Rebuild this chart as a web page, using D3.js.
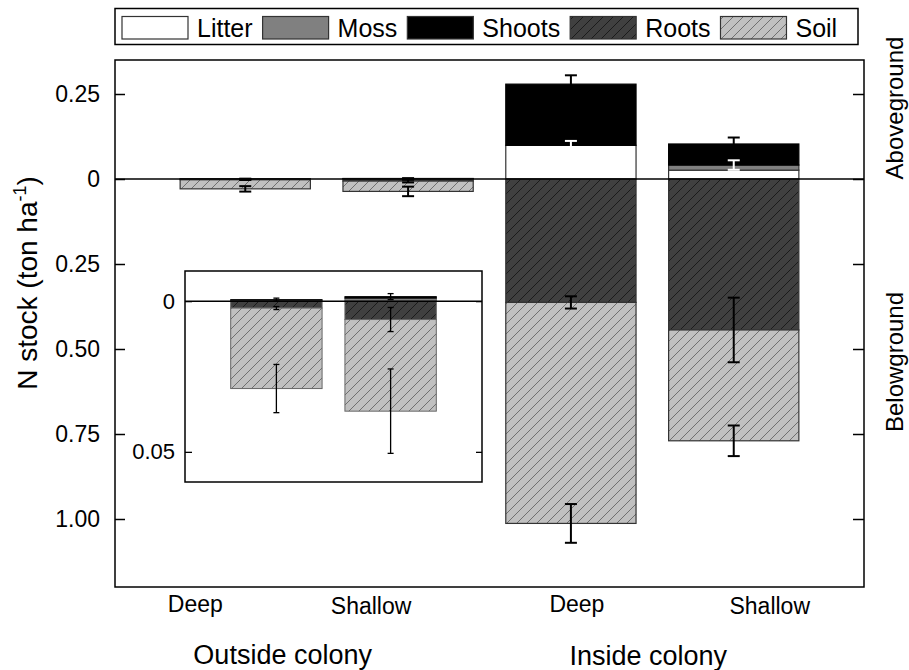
<!DOCTYPE html>
<html>
<head>
<meta charset="utf-8">
<script src="https://cdn.jsdelivr.net/npm/d3@7"></script>
<style>
  body { margin: 0; background: #fff; }
  text { font-family: "Liberation Sans", Arial, sans-serif; fill: #000; }
</style>
</head>
<body>
<div id="chart"></div>
<script>
// bars: outside deep, outside shallow, inside deep, inside shallow
const categories = ["Deep", "Shallow", "Deep", "Shallow"];
const groups = ["Outside colony", "Inside colony"];
const components = ["Litter", "Moss", "Shoots", "Roots", "Soil"];

// N stock (ton/ha); aboveground parts stack up, belowground parts stack down
const litter = [0, 0, 0.099, 0.026];
const moss = [0, 0.0010, 0, 0.015];
const shoots = [0.0005, 0.0005, 0.180, 0.062];
const roots = [0.0023, 0.0061, 0.363, 0.444];
const soil = [0.0267, 0.0304, 0.650, 0.326];

const litterErr = [0, 0, 0.013, 0];
const mossErr = [0, 0, 0, 0.014];
const shootsErr = [0.0005, 0.001, 0.026, 0.019];
const rootsErr = [0.0005, 0.004, 0.018, 0.095];
const soilErr = [0.008, 0.014, 0.057, 0.045];

const yTicks = [0.25, 0, -0.25, -0.5, -0.75, -1];
const yTickLabels = ["0.25", "0", "0.25", "0.50", "0.75", "1.00"];
const insetTicks = [0, -0.05];
const insetTickLabels = ["0", "0.05"];

const width = 909, height = 670;
const margin = {top: 60, right: 45, bottom: 83, left: 115};

const svg = d3.select('#chart').append('svg')
    .attr('width', width).attr('height', height)
    .attr('font-family', '"Liberation Sans", Arial, sans-serif');

// hatch patterns
const defs = svg.append('defs');
function hatch(id, bg, line){
    const w = 10;
    const p = defs.append('pattern').attr('id', id)
        .attr('patternUnits', 'userSpaceOnUse').attr('width', w).attr('height', w);
    p.append('rect').attr('width', w).attr('height', w).attr('fill', bg);
    p.append('path').attr('d', `M0,${w} L${w},0 M-2,2 L2,-2 M${w - 2},${w + 2} L${w + 2},${w - 2}`)
        .attr('stroke', line).attr('stroke-width', 0.8);
}
hatch('hatchRoots', '#404040', '#111');
hatch('hatchSoil', '#c0c0c0', '#5a5a5a');

const series = [
    {name: 'Litter', values: litter, err: litterErr, side: 1, fill: '#ffffff', errColor: '#fff'},
    {name: 'Moss', values: moss, err: mossErr, side: 1, fill: '#808080', errColor: '#fff'},
    {name: 'Shoots', values: shoots, err: shootsErr, side: 1, fill: '#000000', errColor: '#000'},
    {name: 'Roots', values: roots, err: rootsErr, side: -1, fill: 'url(#hatchRoots)', errColor: '#000'},
    {name: 'Soil', values: soil, err: soilErr, side: -1, fill: 'url(#hatchSoil)', errColor: '#000'}
];

// cumulative stacks
const stacked = [];
categories.forEach((c, i) => {
    let up = 0, down = 0;
    series.forEach((s) => {
        const v = s.values[i];
        let y0, y1;
        if(s.side > 0){ y0 = up; up += v; y1 = up; }
        else { y0 = down; down -= v; y1 = down; }
        stacked.push({i: i, s: s, y0: y0, y1: y1, err: s.err[i]});
    });
});

function drawBars(g, x, y, idx, opts){
    const data = stacked.filter((d) => idx.includes(d.i) && d.y0 !== d.y1);
    g.append('g').selectAll('rect').data(data).join('rect')
        .attr('x', (d) => x(d.i))
        .attr('width', x.bandwidth())
        .attr('y', (d) => y(Math.max(d.y0, d.y1)))
        .attr('height', (d) => Math.abs(y(d.y0) - y(d.y1)))
        .attr('fill', (d) => d.s.fill)
        .attr('stroke', (d) => d.s.name === 'Shoots' ? '#000' : opts.outline)
        .attr('stroke-width', opts.outlineWidth);

    // zero line
    g.append('line')
        .attr('x1', x.range()[0]).attr('x2', x.range()[1])
        .attr('y1', y(0)).attr('y2', y(0))
        .attr('stroke', '#000').attr('stroke-width', 1.5);

    const errs = data.filter((d) => d.err > 0);
    const eg = g.append('g').selectAll('g').data(errs).join('g')
        .attr('stroke', (d) => d.s.errColor).attr('stroke-width', opts.errWidth);
    const cx = (d) => x(d.i) + x.bandwidth() / 2;
    eg.append('line').attr('x1', cx).attr('x2', cx)
        .attr('y1', (d) => y(d.y1 - d.err)).attr('y2', (d) => y(d.y1 + d.err));
    [-1, 1].forEach((k) => {
        eg.append('line')
            .attr('x1', (d) => cx(d) - opts.cap).attr('x2', (d) => cx(d) + opts.cap)
            .attr('y1', (d) => y(d.y1 + k * d.err)).attr('y2', (d) => y(d.y1 + k * d.err));
    });
}

// main chart
const x = d3.scaleBand().domain(d3.range(categories.length))
    .range([margin.left, width - margin.right]).paddingInner(0.2).paddingOuter(0.4);
const y = d3.scaleLinear().domain([-1.2, 0.35]).range([height - margin.bottom, margin.top]);

drawBars(svg.append('g'), x, y, [0, 1, 2, 3], {outline: '#333', outlineWidth: 1.2, errWidth: 2, cap: 6});

// left axis, ticks inside
svg.append('g').attr('transform', `translate(${margin.left},0)`)
    .call(d3.axisLeft(y).tickValues(yTicks).tickSizeInner(-10).tickSizeOuter(0).tickPadding(15)
        .tickFormat((d, i) => yTickLabels[i]))
    .call((g) => g.select('.domain').remove())
    .call((g) => g.selectAll('.tick line').attr('stroke-width', 1.5))
    .call((g) => g.selectAll('.tick text').attr('font-size', 23))
    .attr('font-family', null);

// right axis, ticks inside
svg.append('g').attr('transform', `translate(${width - margin.right},0)`)
    .call(d3.axisRight(y).tickValues(yTicks).tickSizeInner(-11).tickSizeOuter(0).tickFormat(''))
    .call((g) => g.select('.domain').remove())
    .call((g) => g.selectAll('.tick line').attr('stroke-width', 1.5));

// frame
svg.append('rect')
    .attr('x', margin.left).attr('y', margin.top)
    .attr('width', width - margin.left - margin.right)
    .attr('height', height - margin.top - margin.bottom)
    .attr('fill', 'none').attr('stroke', '#000').attr('stroke-width', 1.5);

// x labels (placed as in original, not centred under bars)
const labelShift = [-50, -37, 6, 36];
const labelBase = [612, 614, 612, 614];
svg.append('g').selectAll('text').data(categories).join('text')
    .attr('x', (d, i) => x(i) + x.bandwidth() / 2 + labelShift[i])
    .attr('y', (d, i) => labelBase[i])
    .attr('text-anchor', 'middle').attr('font-size', 23)
    .text((d) => d);

const groupX = [(x(0) + x(1) + x.bandwidth()) / 2, (x(2) + x(3) + x.bandwidth()) / 2];
const groupShift = [-44, -4];
svg.append('g').selectAll('text').data(groups).join('text')
    .attr('x', (d, i) => groupX[i] + groupShift[i])
    .attr('y', (d, i) => 664 + i)
    .attr('text-anchor', 'middle').attr('font-size', 27)
    .text((d) => d);

// y label
const yl = svg.append('text')
    .attr('transform', 'translate(37,283) rotate(-90)')
    .attr('text-anchor', 'middle').attr('font-size', 28);
yl.append('tspan').text('N stock (ton ha');
yl.append('tspan').attr('font-size', 18).attr('dy', -11).text('-1');
yl.append('tspan').attr('dy', 11).text(')');

// side labels
svg.append('text').attr('transform', 'translate(903,108) rotate(-90)')
    .attr('text-anchor', 'middle').attr('font-size', 24).text('Aboveground');
svg.append('text').attr('transform', 'translate(903,362) rotate(-90)')
    .attr('text-anchor', 'middle').attr('font-size', 24).text('Belowground');

// inset for the outside colony bars
const inset = {left: 185, right: 482, top: 271, bottom: 482};
const ig = svg.append('g');
ig.append('rect').attr('x', inset.left).attr('y', inset.top)
    .attr('width', inset.right - inset.left).attr('height', inset.bottom - inset.top)
    .attr('fill', '#fff');
const xi = d3.scaleBand().domain([0, 1]).range([inset.left, inset.right])
    .paddingInner(0.2).paddingOuter(0.4);
const yi = d3.scaleLinear().domain([-0.06, 0.01]).range([inset.bottom, inset.top]);
drawBars(ig, xi, yi, [0, 1], {outline: '#666', outlineWidth: 1, errWidth: 1.3, cap: 3});
ig.append('g').attr('transform', `translate(${inset.left},0)`)
    .call(d3.axisLeft(yi).tickValues(insetTicks).tickSizeInner(-7).tickSizeOuter(0).tickPadding(10)
        .tickFormat((d, i) => insetTickLabels[i]))
    .call((g) => g.select('.domain').remove())
    .call((g) => g.selectAll('.tick line').attr('stroke-width', 1.3))
    .call((g) => g.selectAll('.tick text').attr('font-size', 22))
    .attr('font-family', null);
ig.append('g').attr('transform', `translate(${inset.right},0)`)
    .call(d3.axisRight(yi).tickValues(insetTicks).tickSizeInner(-6).tickSizeOuter(0).tickFormat(''))
    .call((g) => g.select('.domain').remove())
    .call((g) => g.selectAll('.tick line').attr('stroke-width', 1.3));
ig.append('rect').attr('x', inset.left).attr('y', inset.top)
    .attr('width', inset.right - inset.left).attr('height', inset.bottom - inset.top)
    .attr('fill', 'none').attr('stroke', '#000').attr('stroke-width', 1.5);

// legend
const lg = svg.append('g');
lg.append('rect').attr('x', 115).attr('y', 8.5).attr('width', 743).attr('height', 36)
    .attr('fill', '#fff').attr('stroke', '#000').attr('stroke-width', 1.5);
let cursor = 122;
series.forEach((s) => {
    lg.append('rect').attr('x', cursor).attr('y', 16.5).attr('width', 66).attr('height', 22.5)
        .attr('fill', s.fill).attr('stroke', '#333').attr('stroke-width', 1.2);
    cursor += 75;
    const t = lg.append('text').attr('x', cursor).attr('y', 36.5).attr('font-size', 25).text(s.name);
    cursor += t.node().getComputedTextLength() + 10;
});
</script>
</body>
</html>
